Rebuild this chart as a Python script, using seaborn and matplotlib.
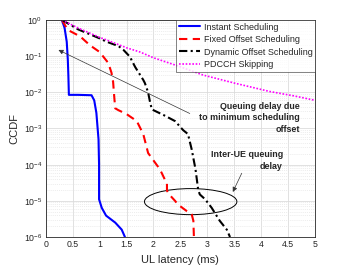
import numpy as np
import pandas as pd
import matplotlib
matplotlib.use("Agg")
import matplotlib.pyplot as plt
import seaborn as sns
from matplotlib.patches import Ellipse
from matplotlib.ticker import LogLocator, NullFormatter, FuncFormatter

sns.set_theme(style="white")
plt.rcParams["font.family"] = ["Liberation Sans", "DejaVu Sans"]
plt.rcParams["mathtext.default"] = "regular"

# ---- data (latency in ms, CCDF) ----
instant_x = [0.30, 0.35, 0.39, 0.41, 0.42, 0.43, 0.60, 0.85, 0.90, 0.94, 0.98, 0.99, 0.99,
             1.04, 1.12, 1.29, 1.41, 1.47]
instant_y = [1.0, 0.6, 0.25, 0.08, 0.03, 8.5e-3, 8.5e-3, 8.3e-3, 6e-3, 2.7e-3, 5e-4, 1e-4, 1.1e-5,
             6.4e-6, 3.9e-6, 2.5e-6, 1.6e-6, 1.0e-6]

fixed_x = [0.30, 0.41, 0.64, 0.82, 1.00, 1.16, 1.22, 1.25, 1.27, 1.29, 1.35, 1.50, 1.69, 1.81,
           1.90, 2.12, 2.21, 2.25, 2.25, 2.31, 2.40, 2.45, 2.61, 2.71, 2.74, 2.75]
fixed_y = [1.0, 0.53, 0.35, 0.2, 0.13, 0.065, 0.035, 0.02, 8e-3, 3.6e-3, 3.2e-3, 2.5e-3, 1.6e-3, 7e-4,
           2.1e-4, 7.4e-5, 3.9e-5, 3.2e-5, 1.9e-5, 1.4e-5, 1e-5, 8e-6, 5.3e-6, 4.2e-6, 2.8e-6, 1e-6]

dynamic_x = [0.30, 0.60, 1.00, 1.13, 1.35, 1.44, 1.56, 1.66, 1.81, 1.84, 1.90, 1.94, 1.97, 2.00,
             2.20, 2.40, 2.55, 2.64, 2.71, 2.78, 2.83, 2.86, 2.96, 3.08, 3.23, 3.36, 3.42]
dynamic_y = [1.0, 0.55, 0.31, 0.25, 0.19, 0.15, 0.097, 0.05, 0.022, 0.018, 0.01, 5e-3, 3.4e-3, 3.2e-3,
             2.3e-3, 1.6e-3, 9e-4, 7e-4, 2.6e-4, 7.4e-5, 2e-5, 1.5e-5, 1.1e-5, 6.4e-6, 2.8e-6, 1.6e-6, 1e-6]

skip_x = [0.30, 0.60, 1.00, 1.13, 1.50, 1.75, 2.00, 2.43, 2.92, 3.50, 4.16, 4.60, 5.00]
skip_y = [1.0, 0.6, 0.33, 0.28, 0.17, 0.13, 0.09, 0.055, 0.03, 0.018, 0.0105, 0.008, 0.006]

x_ticks = [0, 0.5, 1, 1.5, 2, 2.5, 3, 3.5, 4, 4.5, 5]
y_ticks = [1e-6, 1e-5, 1e-4, 1e-3, 1e-2, 1e-1, 1e0]

series = [
    ("Instant Scheduling", instant_x, instant_y, "#0000ff", "-", 1.5),
    ("Fixed Offset Scheduling", fixed_x, fixed_y, "#ff0000", (0, (4, 2.6)), 1.5),
    ("Dynamic Offset Scheduling", dynamic_x, dynamic_y, "#000000", (0, (4, 1.6, 1, 1.6)), 1.5),
    ("PDCCH Skipping", skip_x, skip_y, "#ff00ff", (0, (1, 1)), 1.2),
]

fig = plt.figure(figsize=(3.49, 2.66), dpi=100)
ax = fig.add_axes([0.131, 0.109, 0.772, 0.816])

for name, xs, ys, col, ls, lw in series:
    sns.lineplot(x=xs, y=ys, ax=ax, color=col, linestyle=ls, linewidth=lw,
                 estimator=None, sort=False, label=name)

ax.set_yscale("log")
ax.set_xlim(0, 5)
ax.set_ylim(1e-6, 1)
ax.set_xticks(x_ticks)
ax.xaxis.set_major_formatter(FuncFormatter(lambda v, p: f"{v:g}"))
ax.set_yticks(y_ticks)
ax.yaxis.set_minor_locator(LogLocator(base=10, subs=np.arange(2, 10), numticks=20))
ax.yaxis.set_minor_formatter(NullFormatter())

ax.grid(True, which="major", color="#dcdcdc", linewidth=0.6)
ax.grid(True, which="minor", axis="y", color="#e6e6e6", linewidth=0.5, linestyle=(0, (1.5, 1.5)))
ax.tick_params(axis="both", which="major", labelsize=6.3, colors="#262626", direction="in",
               length=2.5, width=0.5, pad=2.5)
ax.tick_params(axis="y", which="minor", direction="in", length=1.2, width=0.4)
for sp in ax.spines.values():
    sp.set_color("#262626")
    sp.set_linewidth(0.6)

ax.set_xlabel("UL latency (ms)", fontsize=8, color="#262626", labelpad=4)
ax.set_ylabel("CCDF", fontsize=8, color="#262626", labelpad=3)

leg = ax.legend(loc="upper right", fontsize=6.5, frameon=True, fancybox=False,
                handlelength=2.4, handletextpad=0.35, borderpad=0.3, labelspacing=0.38,
                borderaxespad=0.0)
leg.get_frame().set_edgecolor("#262626")
leg.get_frame().set_linewidth(0.5)

# annotations
ax.annotate("", xy=(0.19, 0.16), xytext=(2.72, 2.4e-3),
            arrowprops=dict(arrowstyle="-|>", color="#333333", lw=0.5,
                            mutation_scale=7))
ax.text(4.72, 5.4e-3, "Queuing delay due\nto minimum scheduling\noffset", fontsize=6.4,
        fontweight="bold", ha="right", va="top", multialignment="right", linespacing=1.35)
ax.text(4.40, 2.5e-4, "Inter-UE queuing\ndelay", fontsize=6.4, fontweight="bold",
        ha="right", va="top", multialignment="right", linespacing=1.35)
ax.annotate("", xy=(3.45, 1.5e-5), xytext=(3.66, 6.8e-5),
            arrowprops=dict(arrowstyle="-|>", color="#333333", lw=0.5, mutation_scale=7))
ax.add_patch(Ellipse((0.538, 0.163), 0.343, 0.12, transform=ax.transAxes,
                     fill=False, edgecolor="black", linewidth=0.7))

plt.savefig("out.png", dpi=100)
plt.close()
